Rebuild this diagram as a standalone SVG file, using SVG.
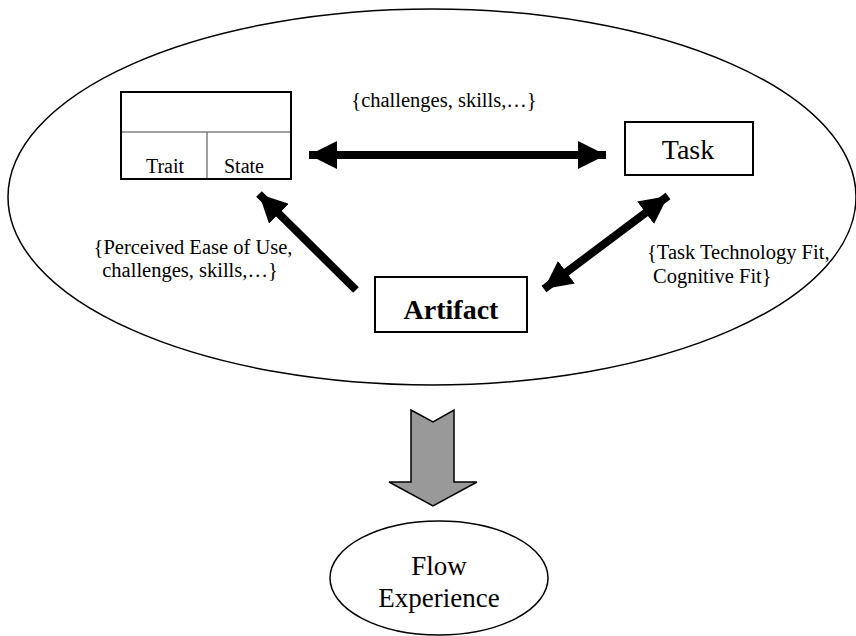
<svg xmlns="http://www.w3.org/2000/svg" width="856" height="636" viewBox="0 0 856 636" font-family="Times New Roman">
<defs>
<marker id="ah" markerUnits="userSpaceOnUse" markerWidth="30" markerHeight="28" refX="28" refY="14" orient="auto-start-reverse" viewBox="0 0 30 28">
<path d="M0,0 L28,14 L0,28 Z" fill="#000"/>
</marker>
</defs>
<g id="context">
<ellipse cx="432" cy="197" rx="424" ry="188" fill="none" stroke="#000" stroke-width="1.5"/>
</g>
<g id="person" font-family="Times New Roman">
<rect x="121" y="92" width="170" height="87" fill="#fff" stroke="#000" stroke-width="2"/>
<line x1="122" y1="132" x2="290" y2="132" stroke="#808080" stroke-width="1.5"/>
<line x1="207" y1="132" x2="207" y2="178" stroke="#808080" stroke-width="1.5"/>
<text font-family="Times New Roman" x="165" y="173" font-size="20" text-anchor="middle">Trait</text>
<text font-family="Times New Roman" x="244" y="173" font-size="20" text-anchor="middle">State</text>
</g>
<g id="task" font-family="Times New Roman">
<rect x="625" y="122" width="128" height="53" fill="#fff" stroke="#000" stroke-width="2"/>
<text font-family="Times New Roman" x="688" y="159" font-size="28" text-anchor="middle">Task</text>
</g>
<g id="artifact" font-family="Times New Roman">
<rect x="375" y="277" width="152" height="55" fill="#fff" stroke="#000" stroke-width="2"/>
<text font-family="Times New Roman" x="451" y="319" font-size="28" font-weight="bold" text-anchor="middle">Artifact</text>
</g>
<g id="connectors" stroke="#000" stroke-width="8" fill="none">
<line x1="309" y1="155" x2="606" y2="155" marker-start="url(#ah)" marker-end="url(#ah)"/>
<line x1="356" y1="290" x2="259" y2="194" marker-end="url(#ah)"/>
<line x1="544" y1="289" x2="668" y2="196" marker-start="url(#ah)" marker-end="url(#ah)"/>
<path d="M411,410 L433,422 L454,410 L454,482 L477,482 L433,506 L389,482 L411,482 Z" fill="#999" stroke="#000" stroke-width="1.5" stroke-linejoin="miter"/>
</g>
<g id="labels" font-family="Times New Roman">
<text font-family="Times New Roman" x="444" y="107" font-size="20.5" text-anchor="middle">{challenges, skills,…}</text>
<text font-family="Times New Roman" x="193" y="254" font-size="20.5" text-anchor="middle">{Perceived Ease of Use,</text>
<text font-family="Times New Roman" x="190" y="277" font-size="20.5" text-anchor="middle">challenges, skills,…}</text>
<text font-family="Times New Roman" x="647" y="259" font-size="20.5">{Task Technology Fit,</text>
<text font-family="Times New Roman" x="653" y="283" font-size="20.5">Cognitive Fit}</text>
</g>
<g id="flow" font-family="Times New Roman">
<ellipse cx="439" cy="578" rx="109" ry="57" fill="#fff" stroke="#000" stroke-width="1.5"/>
<text font-family="Times New Roman" x="439" y="575" font-size="27" text-anchor="middle">Flow</text>
<text font-family="Times New Roman" x="439" y="607" font-size="27" text-anchor="middle">Experience</text>
</g>
</svg>
